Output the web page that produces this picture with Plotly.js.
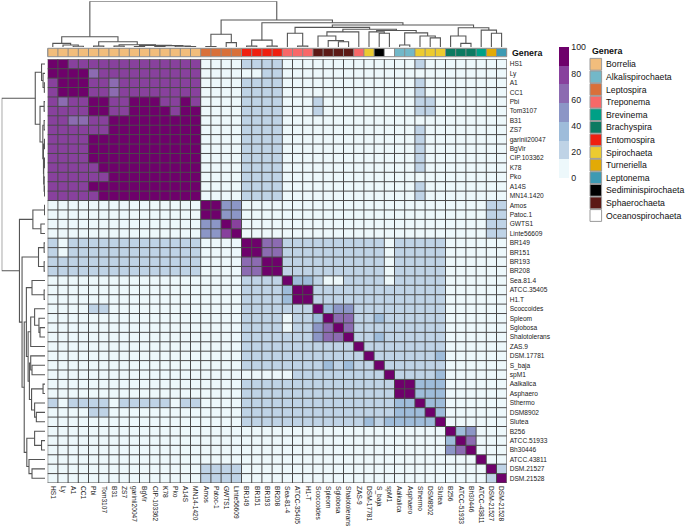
<!DOCTYPE html>
<html><head><meta charset="utf-8">
<script src="https://cdn.plot.ly/plotly-3.0.1.min.js"></script>
<style>html,body{margin:0;padding:0;background:#fff}#chart{width:685px;height:532px}</style>
</head><body><div id="chart"></div>
<script>
const rowLabels = ["HS1","Ly","A1","CC1","Pbi","Tom3107","B31","ZS7","garinii20047","BgVir","CIP.103362","K78","Pko","A14S","MN14.1420","Amos","Patoc.1","GWTS1","Linte56609","BR149","BR151","BR193","BR208","Sea.81.4","ATCC.35405","H1.T","Scoccoides","Spleom","Sglobosa","Shalotolerans","ZAS.9","DSM.17781","S_baja","spM1","Aalkalica","Asphaero","Sthermo","DSM8902","Slutea","B256","ATCC.51933","Bh30446","ATCC.43811","DSM.21527","DSM.21528"];
const colLabels = ["HS1","Ly","A1","CC1","Pbi","Tom3107","B31","ZS7","garinii20047","BgVir","CIP-103362","K78","Pko","A14S","MN14-1420","Amos","Patoc-1","GWTS1","Linte56609","BR149","BR151","BR193","BR208","Sea-81-4","ATCC-35405","H1-T","Scoccoides","Spleom","Sglobosa","Shalotolerans","ZAS-9","DSM-17781","S_baja","spM1","Aalkalica","Asphaero","Sthermo","DSM8902","Slutea","B256","ATCC-51933","Bh30446","ATCC-43811","DSM-21527","DSM-21528"];
const sampleGenus = ["Borrelia","Borrelia","Borrelia","Borrelia","Borrelia","Borrelia","Borrelia","Borrelia","Borrelia","Borrelia","Borrelia","Borrelia","Borrelia","Borrelia","Borrelia",
 "Leptospira","Leptospira","Leptospira","Leptospira","Entomospira","Entomospira","Entomospira","Entomospira",
 "Treponema","Treponema","Treponema","Sphaerochaeta","Sphaerochaeta","Sphaerochaeta","Sphaerochaeta","Treponema",
 "Spirochaeta","Sediminispirochaeta","Oceanospirochaeta","Alkalispirochaeta","Alkalispirochaeta","Spirochaeta","Spirochaeta","Spirochaeta",
 "Brachyspira","Brachyspira","Brachyspira","Brevinema","Turneriella","Leptonema"];
const genera = ["Borrelia","Alkalispirochaeta","Leptospira","Treponema","Brevinema","Brachyspira","Entomospira","Spirochaeta","Turneriella","Leptonema","Sediminispirochaeta","Sphaerochaeta","Oceanospirochaeta"];
const generaColors = ["#F2BD7C","#73B8C8","#D9703A","#F86868","#00A086","#0C7A61","#EF2010","#ECCB30","#E2AA06","#3D9AB3","#000000","#5C1915","#FFFFFF"];
const scaleColors = ["#edf8fb","#bfd3e6","#9ebcda","#8c96c6","#8c6bb1","#88419d","#6e016b"];
const scaleTicks = [0,20,40,60,80,100];

// percent identity matrix, rows/cols in dendrogram order
const identity = [
[100,94,78,78,78,78,78,78,78,78,78,78,78,78,78, 6,6,6,6, 22,22,22,22, 6,6,6, 6,6,6,6, 6,6,6,6, 6,6, 22,6,6, 6,6,6, 6,6,6],
[94,100,94,94,64,78,78,78,78,78,78,78,78,78,78, 6,6,6,6, 6,6,22,22, 6,6,6, 6,6,6,6, 6,6,6,6, 6,6, 6,6,6, 6,6,6, 6,6,6],
[78,94,100,94,78,78,64,78,78,78,78,78,78,78,78, 6,6,6,6, 22,22,22,22, 6,6,6, 6,6,6,6, 6,6,6,6, 6,6, 22,6,6, 6,6,6, 6,6,6],
[78,94,94,100,78,78,64,78,78,78,78,78,78,78,78, 6,6,6,6, 22,22,22,22, 6,6,6, 6,6,6,6, 6,6,6,6, 6,6, 22,6,6, 6,6,6, 6,6,6],
[78,64,78,78,100,94,78,78,94,94,94,78,78,94,78, 6,6,6,6, 22,22,22,22, 6,6,6, 22,6,6,6, 6,6,6,6, 6,6, 22,22,6, 6,6,6, 6,6,6],
[78,78,78,78,94,100,78,78,94,94,94,94,78,94,94, 6,6,6,6, 22,22,22,22, 6,6,6, 22,6,6,6, 6,6,6,6, 6,6, 22,22,6, 6,6,6, 6,6,6],
[78,78,64,64,78,78,100,94,94,94,94,94,94,94,94, 6,6,6,6, 22,22,22,22, 6,6,6, 6,6,6,6, 6,6,6,6, 6,6, 6,6,6, 6,6,6, 6,6,6],
[78,78,78,78,78,78,94,100,94,94,94,94,94,94,94, 6,6,6,6, 22,22,22,22, 6,6,6, 6,6,6,6, 6,6,6,6, 6,6, 22,6,6, 6,6,6, 6,6,6],
[78,78,78,78,94,94,94,94,100,94,94,94,94,94,94, 6,6,6,6, 22,22,22,22, 6,6,6, 6,6,6,6, 6,6,6,6, 6,6, 22,6,6, 6,6,6, 6,6,6],
[78,78,78,78,94,94,94,94,94,100,94,94,94,94,94, 6,6,6,6, 22,22,22,22, 6,6,6, 6,6,6,6, 6,6,6,6, 6,6, 22,6,6, 6,6,6, 6,6,6],
[78,78,78,78,94,94,94,94,94,94,100,94,94,94,94, 6,6,6,6, 22,22,22,22, 6,6,6, 6,6,6,6, 6,6,6,6, 6,6, 22,6,6, 6,6,6, 6,6,6],
[78,78,78,78,78,94,94,94,94,94,94,100,94,94,94, 6,6,6,6, 22,22,22,22, 6,6,6, 6,6,6,6, 6,6,6,6, 6,6, 22,6,6, 6,6,6, 6,6,6],
[78,78,78,78,78,78,94,94,94,94,94,94,100,94,94, 6,6,6,6, 22,22,22,22, 6,6,6, 6,6,6,6, 6,6,6,6, 6,6, 6,6,6, 6,6,6, 6,6,6],
[78,78,78,78,94,94,94,94,94,94,94,94,94,100,94, 6,6,6,6, 22,22,22,22, 6,6,6, 6,6,6,6, 6,6,6,6, 6,6, 22,6,6, 6,6,6, 6,6,6],
[78,78,78,78,78,94,94,94,94,94,94,94,94,94,100, 6,6,6,6, 22,22,22,22, 6,6,6, 6,6,6,6, 6,6,6,6, 6,6, 22,6,6, 6,6,6, 6,6,6],
[6,6,6,6,6,6,6,6,6,6,6,6,6,6,6, 100,94,50,50, 6,6,6,6, 6,6,6, 6,6,6,6, 6,6,6,6, 6,6, 6,6,6, 6,6,6, 6,22,22],
[6,6,6,6,6,6,6,6,6,6,6,6,6,6,6, 94,100,50,50, 6,6,6,6, 6,6,6, 6,6,6,6, 6,6,6,6, 6,6, 6,6,6, 6,6,6, 6,22,22],
[6,6,6,6,6,6,6,6,6,6,6,6,6,6,6, 50,50,100,78, 6,6,6,6, 6,6,6, 6,6,6,6, 6,6,6,6, 6,6, 6,6,6, 6,6,6, 6,22,22],
[6,6,6,6,6,6,6,6,6,6,6,6,6,6,6, 50,50,78,100, 6,6,6,6, 6,6,6, 6,6,6,6, 6,6,6,6, 6,6, 6,6,6, 6,6,6, 6,22,22],
[22,6,22,22,22,22,22,22,22,22,22,22,22,22,22, 6,6,6,6, 100,94,64,64, 22,22,22, 22,22,22,22, 22,22,22,6, 22,22, 22,22,22, 6,6,6, 6,6,6],
[22,6,22,22,22,22,22,22,22,22,22,22,22,22,22, 6,6,6,6, 94,100,64,64, 22,22,22, 22,22,22,22, 22,22,22,6, 22,22, 22,22,22, 6,6,6, 6,6,6],
[22,22,22,22,22,22,22,22,22,22,22,22,22,22,22, 6,6,6,6, 64,64,100,94, 22,22,22, 22,22,22,22, 22,22,22,6, 22,22, 22,22,22, 6,6,6, 6,6,6],
[22,22,22,22,22,22,22,22,22,22,22,22,22,22,22, 6,6,6,6, 64,64,94,100, 22,22,22, 22,22,22,22, 22,22,22,6, 22,22, 22,22,22, 6,6,6, 6,6,6],
[6,6,6,6,6,6,6,6,6,6,6,6,6,6,6, 6,6,6,6, 22,22,22,22, 100,36,36, 22,6,6,22, 22,22,22,6, 22,22, 22,22,22, 6,6,6, 6,6,6],
[6,6,6,6,6,6,6,6,6,6,6,6,6,6,6, 6,6,6,6, 22,22,22,22, 36,100,94, 22,22,22,22, 22,22,22,22, 22,22, 22,22,22, 6,6,6, 6,6,6],
[6,6,6,6,6,6,6,6,6,6,6,6,6,6,6, 6,6,6,6, 22,22,22,22, 36,94,100, 22,22,22,22, 22,22,22,22, 22,22, 22,22,22, 6,6,6, 6,6,6],
[6,6,6,6,22,22,6,6,6,6,6,6,6,6,6, 6,6,6,6, 22,22,22,22, 22,22,22, 100,36,50,50, 22,22,22,22, 22,22, 22,22,22, 6,6,6, 6,6,6],
[6,6,6,6,6,6,6,6,6,6,6,6,6,6,6, 6,6,6,6, 22,22,22,22, 6,22,22, 36,100,64,64, 22,22,36,22, 22,22, 22,22,22, 6,6,6, 6,6,6],
[6,6,6,6,6,6,6,6,6,6,6,6,6,6,6, 6,6,6,6, 22,22,22,22, 6,22,22, 50,64,100,64, 22,22,22,22, 22,22, 22,22,22, 6,6,6, 6,6,6],
[6,6,6,6,6,6,6,6,6,6,6,6,6,6,6, 6,6,6,6, 22,22,22,22, 22,22,22, 50,64,64,100, 22,22,36,22, 22,22, 22,22,22, 6,6,6, 6,6,6],
[6,6,6,6,6,6,6,6,6,6,6,6,6,6,6, 6,6,6,6, 22,22,22,22, 22,22,22, 22,22,22,22, 100,22,22,22, 22,22, 22,22,22, 6,6,6, 6,6,6],
[6,6,6,6,6,6,6,6,6,6,6,6,6,6,6, 6,6,6,6, 22,22,22,22, 22,22,22, 22,22,22,22, 22,100,22,22, 22,22, 22,22,36, 6,6,6, 6,6,6],
[6,6,6,6,6,6,6,6,6,6,6,6,6,6,6, 6,6,6,6, 22,22,22,22, 22,22,22, 22,36,22,36, 22,22,100,22, 22,22, 22,22,22, 6,6,6, 6,6,6],
[6,6,6,6,6,6,6,6,6,6,6,6,6,6,6, 6,6,6,6, 6,6,6,6, 6,22,22, 22,22,22,22, 22,22,22,100, 22,22, 22,22,36, 6,6,6, 6,6,6],
[6,6,6,6,6,6,6,6,6,6,6,6,6,6,6, 6,6,6,6, 22,22,22,22, 22,22,22, 22,22,22,22, 22,22,22,22, 100,94, 36,36,36, 6,6,6, 6,6,6],
[6,6,6,6,6,6,6,6,6,6,6,6,6,6,6, 6,6,6,6, 22,22,22,22, 22,22,22, 22,22,22,22, 22,22,22,22, 94,100, 36,36,36, 6,6,6, 6,6,6],
[22,6,22,22,22,22,6,22,22,22,22,22,6,22,22, 6,6,6,6, 22,22,22,22, 22,22,22, 22,22,22,22, 22,22,22,22, 36,36, 100,36,36, 6,6,6, 6,6,6],
[6,6,6,6,22,22,6,6,6,6,6,6,6,6,6, 6,6,6,6, 22,22,22,22, 22,22,22, 22,22,22,22, 22,22,22,22, 36,36, 36,100,36, 6,6,6, 6,6,6],
[6,6,6,6,6,6,6,6,6,6,6,6,6,6,6, 6,6,6,6, 22,22,22,22, 22,22,22, 22,22,22,22, 22,36,22,36, 36,36, 36,36,100, 6,6,6, 6,6,6],
[6,6,6,6,6,6,6,6,6,6,6,6,6,6,6, 6,6,6,6, 6,6,6,6, 6,6,6, 6,6,6,6, 6,6,6,6, 6,6, 6,6,6, 100,36,50, 6,6,6],
[6,6,6,6,6,6,6,6,6,6,6,6,6,6,6, 6,6,6,6, 6,6,6,6, 6,6,6, 6,6,6,6, 6,6,6,6, 6,6, 6,6,6, 36,100,64, 6,6,6],
[6,6,6,6,6,6,6,6,6,6,6,6,6,6,6, 6,6,6,6, 6,6,6,6, 6,6,6, 6,6,6,6, 6,6,6,6, 6,6, 6,6,6, 50,64,100, 6,6,6],
[6,6,6,6,6,6,6,6,6,6,6,6,6,6,6, 6,6,6,6, 6,6,6,6, 6,6,6, 6,6,6,6, 6,6,6,6, 6,6, 6,6,6, 6,6,6, 100,6,6],
[6,6,6,6,6,6,6,6,6,6,6,6,6,6,6, 22,22,22,22, 6,6,6,6, 6,6,6, 6,6,6,6, 6,6,6,6, 6,6, 6,6,6, 6,6,6, 6,100,22],
[6,6,6,6,6,6,6,6,6,6,6,6,6,6,6, 22,22,22,22, 6,6,6,6, 6,6,6, 6,6,6,6, 6,6,6,6, 6,6, 6,6,6, 6,6,6, 6,22,100]
];

// hierarchical clustering tree: [left, right, height(fraction of root)], leaves = sample index
const tree =
[
 [[0,[1,[2,3,0.015],0.045],0.08],
  [[4,5,0.02],[[6,7,0.02],[[8,9,0.01],[[10,11,0.01],[12,[13,14,0.01],0.02],0.03],0.035],0.05],0.115],0.225],
 [[[15,16,0.01],[17,18,0.095],0.28],
  [[[19,20,0.02],[21,22,0.02],0.15],
   [[[23,[24,25,0.02],0.30],
     [[[26,[27,[28,29,0.115],0.14],0.24],30,0.33],
      [[31,[32,33,0.30],0.33],[[34,35,0.045],[36,[37,38,0.2],0.24],0.31],0.36],0.39],0.43],
    [[39,[40,41,0.08],0.24],[42,[43,44,0.30],0.37],0.42],0.48],0.53],0.59],
 1.0];

const W = 685, H = 532;
const px = x => x / W, py = y => 1 - y / H;
const HX0 = 47.7, HX1 = 506.7, HY0 = 59.3, HY1 = 483;
const n = rowLabels.length;
const idx = rowLabels.map((_, i) => i);

const cs = [];
scaleColors.forEach((c, i) => { cs.push([i / scaleColors.length, c]); cs.push([(i + 1) / scaleColors.length, c]); });
const gcs = [];
generaColors.forEach((c, i) => { gcs.push([i / generaColors.length, c]); gcs.push([(i + 1) / generaColors.length, c]); });

const dx = [], dy = [];
function build(node) {
  if (typeof node === 'number') return { p: node, h: 0 };
  const a = build(node[0]), b = build(node[1]), h = node[2];
  dx.push(a.p, a.p, b.p, b.p, null);
  dy.push(a.h, h, h, b.h, null);
  return { p: (a.p + b.p) / 2, h: h };
}
build(tree);

const lineStyle = { color: '#555555', width: 1.1 };
const narrow = 'Liberation Sans Narrow, Arial Narrow, Liberation Sans, sans-serif';
const sans = 'Liberation Sans, Arial, sans-serif';

const traces = [
  { type: 'heatmap', z: identity, x: idx, y: idx, xaxis: 'x', yaxis: 'y', zmin: 0, zmax: 100,
    colorscale: cs, hoverinfo: 'skip',
    colorbar: { x: px(559), xanchor: 'left', y: py(47.3), yanchor: 'top', len: 131, lenmode: 'pixels',
      thickness: 10, thicknessmode: 'pixels', outlinewidth: 0, xpad: 0, ypad: 0,
      tickvals: scaleTicks, ticks: '', tickfont: { size: 8.8, family: sans, color: '#222' } } },
  { type: 'heatmap', z: [sampleGenus.map(g => genera.indexOf(g))], x: idx, y: [0], xaxis: 'x', yaxis: 'y3',
    zmin: -0.5, zmax: genera.length - 0.5, colorscale: gcs, showscale: false, hoverinfo: 'skip' },
  { type: 'scatter', mode: 'lines', x: dx, y: dy, xaxis: 'x', yaxis: 'y2', line: lineStyle, hoverinfo: 'skip', showlegend: false },
  { type: 'scatter', mode: 'lines', x: dy, y: dx, xaxis: 'x2', yaxis: 'y', line: lineStyle, hoverinfo: 'skip', showlegend: false }
];

const shapes = [];
const gridColor = '#4a4a4a';
for (let k = 0; k <= n; k++) {
  shapes.push({ type: 'line', xref: 'x', yref: 'paper', x0: k - 0.5, x1: k - 0.5, y0: py(HY1), y1: py(HY0), line: { color: gridColor, width: 1 } });
  shapes.push({ type: 'line', xref: 'paper', yref: 'y', x0: px(HX0), x1: px(HX1), y0: k - 0.5, y1: k - 0.5, line: { color: gridColor, width: 1 } });
  shapes.push({ type: 'line', xref: 'x', yref: 'paper', x0: k - 0.5, x1: k - 0.5, y0: py(56.7), y1: py(48.3), line: { color: '#8a8a8a', width: 1 } });
}
shapes.push({ type: 'rect', xref: 'paper', yref: 'paper', x0: px(HX0), x1: px(HX1), y0: py(56.7), y1: py(48.3), line: { color: '#8a8a8a', width: 1 } });

const annotations = [
  { text: '<b>Genera</b>', xref: 'paper', yref: 'paper', x: px(510), y: py(52.6), xanchor: 'left', yanchor: 'middle', showarrow: false, font: { size: 8.8, family: sans, color: '#111' } },
  { text: '<b>Genera</b>', xref: 'paper', yref: 'paper', x: px(589.5), y: py(50.8), xanchor: 'left', yanchor: 'middle', showarrow: false, font: { size: 8.8, family: sans, color: '#111' } }
];
const LY0 = 58.4, LS = 12.6;
genera.forEach((g, i) => {
  const y0 = LY0 + LS * i;
  shapes.push({ type: 'rect', xref: 'paper', yref: 'paper', x0: px(590), x1: px(601.6), y0: py(y0 + 11.8), y1: py(y0),
    fillcolor: generaColors[i], line: { color: '#9a9a9a', width: 1 } });
  annotations.push({ text: g, xref: 'paper', yref: 'paper', x: px(604), y: py(y0 + 6), xanchor: 'left', yanchor: 'middle',
    showarrow: false, font: { size: 8.7, family: sans, color: '#111' } });
});

const layout = {
  width: W, height: H, margin: { l: 0, r: 0, t: 0, b: 0 }, paper_bgcolor: '#fff', plot_bgcolor: '#fff', showlegend: false,
  xaxis: { domain: [px(HX0), px(HX1)], range: [-0.5, n - 0.5], anchor: 'y', tickvals: idx, ticktext: colLabels, tickangle: 90,
    ticks: '', ticklabelstandoff: 2, showgrid: false, zeroline: false, showline: false, fixedrange: true,
    tickfont: { size: 6.6, family: narrow, color: '#1a1a1a' } },
  yaxis: { domain: [py(HY1), py(HY0)], range: [n - 0.5, -0.5], anchor: 'x', side: 'right', tickvals: idx, ticktext: rowLabels,
    ticks: '', ticklabelstandoff: 2, showgrid: false, zeroline: false, showline: false, fixedrange: true,
    tickfont: { size: 6.6, family: narrow, color: '#1a1a1a' } },
  yaxis2: { domain: [py(47), py(1.3)], range: [0, 1], anchor: 'x', visible: false, fixedrange: true },
  yaxis3: { domain: [py(56.7), py(48.3)], range: [-0.5, 0.5], anchor: 'x', visible: false, fixedrange: true },
  xaxis2: { domain: [px(1.7), px(45)], range: [1, 0], anchor: 'y', visible: false, fixedrange: true },
  shapes: shapes, annotations: annotations
};
Plotly.newPlot('chart', traces, layout, { staticPlot: true, displayModeBar: false });
</script></body></html>
